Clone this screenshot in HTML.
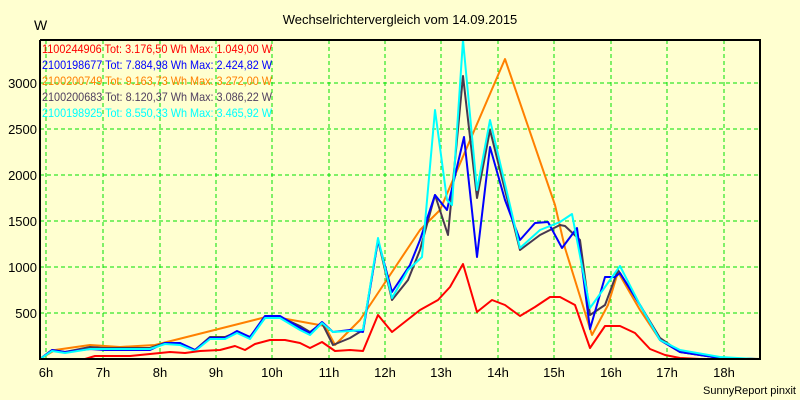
<!DOCTYPE html>
<html><head><meta charset="utf-8"><style>
html,body{margin:0;padding:0;background:#ffffd0;}
svg{display:block;font-family:"Liberation Sans",sans-serif;}
</style></head><body>
<svg width="800" height="400" viewBox="0 0 800 400">
<rect width="800" height="400" fill="#ffffd0"/>
<text x="400" y="24" font-size="13" text-anchor="middle" fill="#000">Wechselrichtervergleich vom 14.09.2015</text>
<text x="34" y="30" font-size="14" fill="#000">W</text>
<g stroke="#00e000" stroke-width="1" stroke-dasharray="4,3">
<line x1="46" y1="40" x2="46" y2="359"/><line x1="103" y1="40" x2="103" y2="359"/><line x1="160" y1="40" x2="160" y2="359"/><line x1="216" y1="40" x2="216" y2="359"/><line x1="272" y1="40" x2="272" y2="359"/><line x1="329" y1="40" x2="329" y2="359"/><line x1="385" y1="40" x2="385" y2="359"/><line x1="441" y1="40" x2="441" y2="359"/><line x1="498" y1="40" x2="498" y2="359"/><line x1="554" y1="40" x2="554" y2="359"/><line x1="611" y1="40" x2="611" y2="359"/><line x1="667" y1="40" x2="667" y2="359"/><line x1="724" y1="40" x2="724" y2="359"/>
<line x1="40" y1="313" x2="760" y2="313"/><line x1="40" y1="267" x2="760" y2="267"/><line x1="40" y1="221" x2="760" y2="221"/><line x1="40" y1="175" x2="760" y2="175"/><line x1="40" y1="129" x2="760" y2="129"/><line x1="40" y1="83" x2="760" y2="83"/>
</g>
<g font-size="13" fill="#000" text-anchor="end">
<text x="37" y="318">500</text><text x="37" y="272">1000</text><text x="37" y="226">1500</text><text x="37" y="180">2000</text><text x="37" y="134">2500</text><text x="37" y="88">3000</text>
</g>
<g font-size="13" fill="#000" text-anchor="middle">
<text x="46" y="377">6h</text><text x="103" y="377">7h</text><text x="160" y="377">8h</text><text x="216" y="377">9h</text><text x="272" y="377">10h</text><text x="329" y="377">11h</text><text x="385" y="377">12h</text><text x="441" y="377">13h</text><text x="498" y="377">14h</text><text x="554" y="377">15h</text><text x="611" y="377">16h</text><text x="667" y="377">17h</text><text x="724" y="377">18h</text>
</g>
<text x="796" y="394" font-size="11" text-anchor="end" fill="#000">SunnyReport pinxit</text>
<g fill="none" stroke-width="2" stroke-linejoin="round">
<polyline stroke="#ff8000" points="40,359 55,350 90,345 120,347 155,345 270,316 325,326 335,345 360,320 420,230 440,210 505,59 555,205 565,248 592,335 608,305 618,272 640,310 660,340 680,352 720,358 740,359"/>
<polyline stroke="#483850" points="40,359 52,350 65,352 90,347 105,348 150,348 165,343 180,343 195,350 210,337 225,337 237,332 250,337 265,318 280,317 300,326 310,332 322,323 333,345 350,338 363,330 378,240 392,300 408,280 420,250 435,195 448,235 463,76 477,198 490,130 520,250 540,235 560,225 565,226 580,240 590,315 605,305 618,270 640,305 660,338 680,352 720,358 760,359"/>
<polyline stroke="#0000ff" points="40,359 52,350 65,352 90,349 105,350 150,350 165,343 180,343 195,350 210,338 225,338 237,331 250,337 265,316 280,316 300,328 310,333 322,322 333,332 350,330 363,332 378,240 392,292 410,265 420,240 435,195 447,210 464,137 477,257 490,147 505,200 520,240 535,223 548,222 562,248 577,228 590,329 605,277 615,277 620,273 640,305 660,340 680,352 720,358 755,359"/>
<polyline stroke="#00ffff" points="40,359 52,351 65,353 90,349 105,349 150,349 165,344 180,345 195,351 210,339 225,339 237,333 250,339 265,318 280,318 300,330 310,335 322,323 333,332 350,331 363,330 378,238 392,298 408,270 422,257 435,110 447,200 452,205 463,40 477,190 490,120 520,248 540,230 560,222 572,214 590,308 620,266 640,305 660,340 680,350 720,357 755,359"/>
<polyline stroke="#ff0000" points="40,359 85,359 95,356 130,356 150,354 170,352 185,353 200,351 220,350 235,346 245,350 255,344 270,340 285,340 300,343 310,348 322,342 335,351 350,350 363,351 378,315 392,332 420,310 438,300 450,287 463,264 477,312 492,300 505,305 520,316 535,307 550,297 560,297 575,305 590,348 605,326 620,326 635,333 650,349 665,355 680,358 700,359 730,359"/>
</g>
<polyline fill="none" stroke="#000" stroke-width="2" points="40,40 760,40 760,359 40,359 40,40"/>
<g font-size="12">
<text x="42" y="53" fill="#ff0000" textLength="230" lengthAdjust="spacingAndGlyphs">1100244906 Tot: 3.176,50 Wh Max: 1.049,00 W</text>
<text x="42" y="69" fill="#0000ff" textLength="230" lengthAdjust="spacingAndGlyphs">2100198677 Tot: 7.884,98 Wh Max: 2.424,82 W</text>
<text x="42" y="85" fill="#ff8000" textLength="230" lengthAdjust="spacingAndGlyphs">2100200749 Tot: 9.163,73 Wh Max: 3.272,00 W</text>
<text x="42" y="101" fill="#504060" textLength="230" lengthAdjust="spacingAndGlyphs">2100200683 Tot: 8.120,37 Wh Max: 3.086,22 W</text>
<text x="42" y="117" fill="#00ffff" textLength="230" lengthAdjust="spacingAndGlyphs">2100198925 Tot: 8.550,33 Wh Max: 3.465,92 W</text>
</g>
</svg>
</body></html>
